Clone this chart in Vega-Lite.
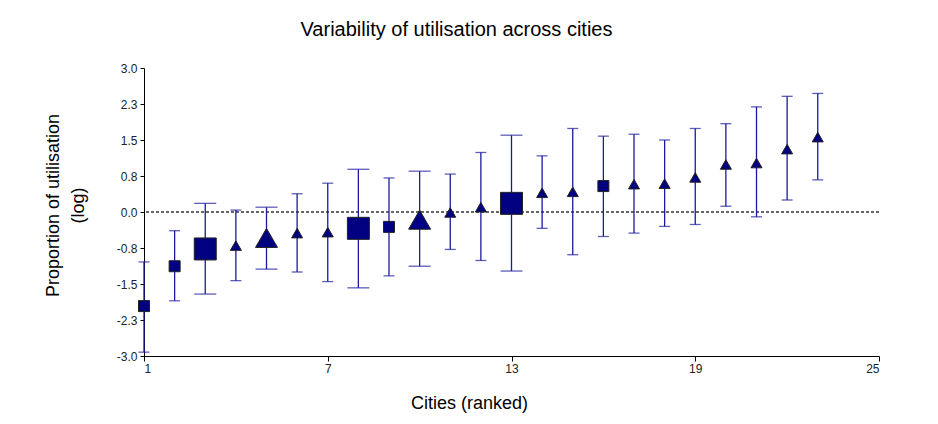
{
  "$schema": "https://vega.github.io/schema/vega-lite/v6.json",
  "width": 735,
  "height": 288,
  "autosize": "none",
  "padding": {"left": 144, "top": 68, "right": 59, "bottom": 68},
  "background": "white",
  "title": {
    "text": "Variability of utilisation across cities",
    "font": "Liberation Sans",
    "fontSize": 20,
    "fontWeight": "normal",
    "color": "#000000",
    "anchor": "middle",
    "dx": -55,
    "baseline": "alphabetic",
    "offset": 6
  },
  "config": {
    "view": {"stroke": null},
    "axis": {
      "domainColor": "#000000",
      "tickColor": "#000000",
      "grid": false,
      "labelFont": "Liberation Sans",
      "labelFontSize": 12,
      "labelColor": "#222222",
      "labelOverlap": false,
      "titleFont": "Liberation Sans",
      "titleFontSize": 18,
      "titleFontWeight": "normal",
      "titleColor": "#000000"
    }
  },
  "data": {
    "values": [
      {"city": 1, "est": -1.96, "lo": -2.92, "hi": -1.04, "type": "A", "cls": "small"},
      {"city": 2, "est": -1.13, "lo": -1.85, "hi": -0.39, "type": "A", "cls": "small"},
      {"city": 3, "est": -0.77, "lo": -1.71, "hi": 0.18, "type": "A", "cls": "large"},
      {"city": 4, "est": -0.70, "lo": -1.43, "hi": 0.04, "type": "B", "cls": "small"},
      {"city": 5, "est": -0.54, "lo": -1.19, "hi": 0.10, "type": "B", "cls": "large"},
      {"city": 6, "est": -0.44, "lo": -1.25, "hi": 0.38, "type": "B", "cls": "small"},
      {"city": 7, "est": -0.42, "lo": -1.45, "hi": 0.60, "type": "B", "cls": "small"},
      {"city": 8, "est": -0.34, "lo": -1.58, "hi": 0.89, "type": "A", "cls": "large"},
      {"city": 9, "est": -0.31, "lo": -1.33, "hi": 0.71, "type": "A", "cls": "small"},
      {"city": 10, "est": -0.16, "lo": -1.13, "hi": 0.85, "type": "B", "cls": "large"},
      {"city": 11, "est": -0.01, "lo": -0.78, "hi": 0.79, "type": "B", "cls": "small"},
      {"city": 12, "est": 0.10, "lo": -1.01, "hi": 1.24, "type": "B", "cls": "small"},
      {"city": 13, "est": 0.18, "lo": -1.23, "hi": 1.60, "type": "A", "cls": "large"},
      {"city": 14, "est": 0.40, "lo": -0.34, "hi": 1.17, "type": "B", "cls": "small"},
      {"city": 15, "est": 0.42, "lo": -0.89, "hi": 1.74, "type": "B", "cls": "small"},
      {"city": 16, "est": 0.54, "lo": -0.51, "hi": 1.58, "type": "A", "cls": "small"},
      {"city": 17, "est": 0.58, "lo": -0.44, "hi": 1.62, "type": "B", "cls": "small"},
      {"city": 18, "est": 0.59, "lo": -0.30, "hi": 1.50, "type": "B", "cls": "small"},
      {"city": 19, "est": 0.72, "lo": -0.26, "hi": 1.74, "type": "B", "cls": "small"},
      {"city": 20, "est": 0.99, "lo": 0.12, "hi": 1.84, "type": "B", "cls": "small"},
      {"city": 21, "est": 1.02, "lo": -0.10, "hi": 2.19, "type": "B", "cls": "small"},
      {"city": 22, "est": 1.31, "lo": 0.25, "hi": 2.41, "type": "B", "cls": "small"},
      {"city": 23, "est": 1.56, "lo": 0.67, "hi": 2.47, "type": "B", "cls": "small"}
    ]
  },
  "encoding": {
    "x": {
      "field": "city",
      "type": "quantitative",
      "scale": {"domain": [1, 25], "nice": false, "zero": false},
      "axis": {
        "values": [1, 7, 13, 19, 25],
        "format": "d",
        "title": "Cities (ranked)",
        "tickSize": 5,
        "labelPadding": 2,
        "titleX": 325,
        "titleY": 52,
        "titleAnchor": null,
        "titleAlign": "center",
        "titleBaseline": "alphabetic"
      }
    }
  },
  "layer": [
    {
      "mark": {"type": "rule", "color": "#666666", "strokeDash": [3, 2], "strokeWidth": 1},
      "encoding": {
        "x": null,
        "y": {
          "datum": 0,
          "type": "quantitative",
          "scale": {"domain": [-3, 3], "nice": false, "zero": false},
          "axis": {
            "values": [-3, -2.25, -1.5, -0.75, 0, 0.75, 1.5, 2.25, 3],
            "tickCount": 20,
            "labelOverlap": false,
            "labelExpr": "replace(format(datum.value, '.1f'), '−', '-')",
            "title": ["Proportion of utilisation", "(log)"],
            "tickSize": 4,
            "labelPadding": 3,
            "titleAngle": 270,
            "titleX": -91,
            "titleY": 137,
            "titleAlign": "center",
            "titleBaseline": "middle",
            "titleLineHeight": 25,
            "titleAnchor": null
          }
        }
      }
    },
    {
      "mark": {"type": "rule", "color": "#1a1a9e", "strokeWidth": 1.3},
      "encoding": {
        "y": {"field": "lo", "type": "quantitative"},
        "y2": {"field": "hi"}
      }
    },
    {
      "mark": {"type": "tick", "orient": "horizontal", "color": "#1a1a9e", "thickness": 1.3},
      "encoding": {
        "y": {"field": "lo", "type": "quantitative"},
        "size": {"field": "cls", "type": "nominal", "scale": {"domain": ["small", "large"], "range": [11, 22]}, "legend": null}
      }
    },
    {
      "mark": {"type": "tick", "orient": "horizontal", "color": "#1a1a9e", "thickness": 1.3},
      "encoding": {
        "y": {"field": "hi", "type": "quantitative"},
        "size": {"field": "cls", "type": "nominal", "scale": {"domain": ["small", "large"], "range": [11, 22]}, "legend": null}
      }
    },
    {
      "mark": {"type": "point", "filled": true, "fill": "#000080", "stroke": "#222222", "strokeWidth": 1, "opacity": 1},
      "encoding": {
        "y": {"field": "est", "type": "quantitative"},
        "shape": {"field": "type", "type": "nominal", "scale": {"domain": ["A", "B"], "range": ["square", "triangle-up"]}, "legend": null},
        "size": {"field": "cls", "type": "nominal", "scale": {"domain": ["small", "large"], "range": [121, 484]}, "legend": null}
      }
    }
  ],
  "resolve": {"scale": {"size": "independent"}}
}
